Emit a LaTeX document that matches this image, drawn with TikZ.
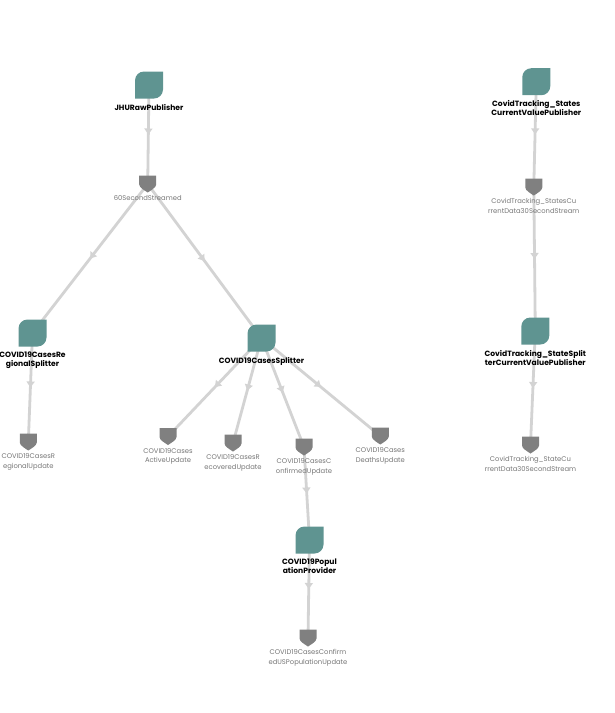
\documentclass[tikz,border=0pt]{standalone}
\usepackage{fontspec}
\setmainfont{Poppins}
\usetikzlibrary{backgrounds,decorations.markings,arrows.meta}
\definecolor{pubteal}{HTML}{5F9491}
\definecolor{streamgray}{HTML}{808080}
\definecolor{edgegray}{HTML}{D3D3D3}
\definecolor{lblgray}{HTML}{767676}
\tikzset{
  publisher/.style={minimum width=28pt, minimum height=27pt, inner sep=0pt, outer sep=0pt,
    path picture={\fill[pubteal] ([yshift=-9pt]path picture bounding box.north west)
      arc[start angle=180, end angle=90, radius=9pt] -- (path picture bounding box.north east)
      -- ([yshift=9pt]path picture bounding box.south east)
      arc[start angle=0, end angle=-90, radius=9pt] -- (path picture bounding box.south west) -- cycle;},
    label={[pubtext]below:#1}},
  stream/.style={minimum width=17pt, minimum height=17pt, inner sep=0pt, outer sep=0pt,
    path picture={\fill[streamgray] (path picture bounding box.north west) -- (path picture bounding box.north east)
      -- ([yshift=-9pt]path picture bounding box.north east)
      .. controls +(0,-3pt) and +(3pt,2pt) .. (path picture bounding box.south)
      .. controls +(-3pt,2pt) and +(0,-3pt) .. ([yshift=-9pt]path picture bounding box.north west) -- cycle;},
    label={[streamtext]below:#1}},
  pubtext/.style={font=\bfseries\fontsize{7.6}{9}\selectfont, align=center, inner sep=0pt, label distance=5.5pt, text=black},
  streamtext/.style={font=\fontsize{6.8}{9.5}\selectfont, align=center, inner sep=0pt, label distance=3pt, text=lblgray},
  edgeline/.style={draw=edgegray, line width=2.8pt,
    decoration={markings, mark=at position 0.5 with {\arrow{Triangle[width=8pt,length=6pt]}}},
    postaction={decorate}},
}
\begin{document}
\begin{tikzpicture}[x=1pt,y=-1pt]
\useasboundingbox (0,0) rectangle (615,713);
% publishers / processors
\node[publisher={JHURawPublisher}] (jhu) at (149,85) {};
\node[publisher={COVID19CasesRe\\gionalSplitter}] (regsplit) at (32.5,333) {};
\node[publisher={COVID19CasesSplitter}] (split) at (261.5,338) {};
\node[publisher={COVID19Popul\\ationProvider}] (pop) at (309.5,540) {};
\node[publisher={CovidTracking\_States\\CurrentValuePublisher}] (ctpub) at (536.3,81.7) {};
\node[publisher={CovidTracking\_StateSplit\\terCurrentValuePublisher}] (ctsplit) at (535.3,331) {};
% streams
\node[stream={60SecondStreamed}] (s60) at (147.7,184) {};
\node[stream={COVID19CasesR\\egionalUpdate}] (sreg) at (28.3,442) {};
\node[stream={COVID19Cases\\ActiveUpdate}] (sact) at (168,436.5) {};
\node[stream={COVID19CasesR\\ecoveredUpdate}] (srec) at (233,443) {};
\node[stream={COVID19CasesC\\onfirmedUpdate}] (sconf) at (304,447) {};
\node[stream={COVID19Cases\\DeathsUpdate}] (sdeath) at (380.3,436) {};
\node[stream={COVID19CasesConfirm\\edUSPopulationUpdate}] (sus) at (308,638) {};
\node[stream={CovidTracking\_StatesCu\\rrentData30SecondStream}] (sct1) at (533.8,187) {};
\node[stream={CovidTracking\_StateCu\\rrentData30SecondStream}] (sct2) at (530.5,445) {};
\begin{pgfonlayer}{background}
\draw[edgeline] (jhu.center) -- (s60.center);
\draw[edgeline] (s60.center) -- (regsplit.center);
\draw[edgeline] (s60.center) -- (split.center);
\draw[edgeline] (regsplit.center) -- (sreg.center);
\draw[edgeline] (split.center) -- (sact.center);
\draw[edgeline] (split.center) -- (srec.center);
\draw[edgeline] (split.center) -- (sconf.center);
\draw[edgeline] (split.center) -- (sdeath.center);
\draw[edgeline] (sconf.center) -- (pop.center);
\draw[edgeline] (pop.center) -- (sus.center);
\draw[edgeline] (ctpub.center) -- (sct1.center);
\draw[edgeline] (sct1.center) -- (ctsplit.center);
\draw[edgeline] (ctsplit.center) -- (sct2.center);
\end{pgfonlayer}
\end{tikzpicture}
\end{document}
